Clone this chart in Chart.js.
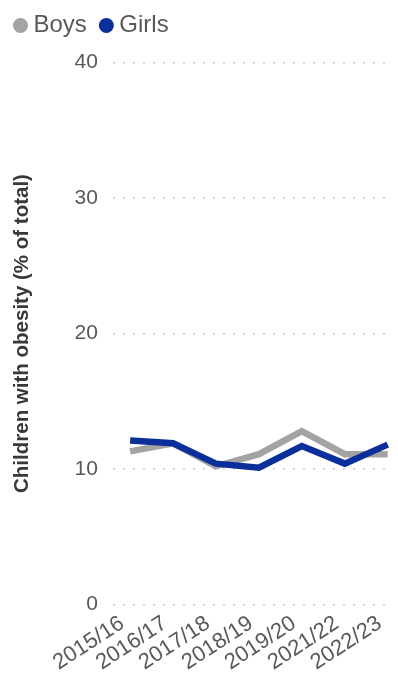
<!DOCTYPE html>
<html><head><meta charset="utf-8">
<script src="https://cdn.jsdelivr.net/npm/chart.js@4/dist/chart.umd.min.js"></script>
<style>html,body{margin:0;padding:0;background:#fff}#wrap{width:398px;height:674px;position:relative}</style>
</head><body><div id="wrap"><canvas id="c"></canvas></div>
<script>
const categories = ["2015/16","2016/17","2017/18","2018/19","2019/20","2021/22","2022/23"];
const boys  = [11.3, 11.9, 10.2, 11.1, 12.8, 11.1, 11.1];
const girls = [12.1, 11.9, 10.4, 10.1, 11.7, 10.4, 11.8];
const yTicks = [0, 10, 20, 30, 40];

const toPoints = arr => arr.map((v, i) => ({x: i, y: v}));
const FONT = 'Liberation Sans, Arial, sans-serif';

const legendMargin = {
  id: 'legendMargin',
  beforeInit(chart) {
    const fit = chart.legend.fit;
    chart.legend.fit = function () { fit.call(this); this.height += 15; };
  }
};

new Chart(document.getElementById('c'), {
  type: 'line',
  data: {
    datasets: [
      {label: 'Boys', data: toPoints(boys), borderColor: '#a3a3a3', backgroundColor: '#a3a3a3', borderWidth: 6.5, pointRadius: 0, tension: 0, order: 1},
      {label: 'Girls', data: toPoints(girls), borderColor: '#0a2f9b', backgroundColor: '#0a2f9b', borderWidth: 6.5, pointRadius: 0, tension: 0, order: 0}
    ]
  },
  plugins: [legendMargin],
  options: {
    responsive: true, maintainAspectRatio: false, animation: false,
    layout: {padding: {left: 1, right: 6, top: -5, bottom: 0}},
    plugins: {
      legend: {
        position: 'top', align: 'start',
        labels: {usePointStyle: true, pointStyle: 'circle', boxWidth: 2, boxHeight: 10.6, padding: 18.5,
          sort: (a, b) => a.datasetIndex - b.datasetIndex,
          generateLabels: (chart) => Chart.defaults.plugins.legend.labels.generateLabels(chart).map(l => Object.assign(l, {lineWidth: 0})),
          font: {family: FONT, size: 24}, color: '#595959'}
      },
      tooltip: {enabled: false}
    },
    scales: {
      x: {
        type: 'linear', min: -0.4, max: 6.1,
        afterBuildTicks: (ax) => { ax.ticks = categories.map((c, i) => ({value: i})); },
        afterFit: (ax) => { ax.paddingLeft = 0; ax.paddingRight = 0; },
        grid: {display: false},
        border: {display: false},
        ticks: {maxRotation: 33, minRotation: 33, autoSkip: false, padding: -2, labelOffset: -8,
          callback: (v) => categories[v],
          font: {family: FONT, size: 22}, color: '#595959'}
      },
      y: {
        min: 0, max: 40,
        afterBuildTicks: (ax) => { ax.ticks = yTicks.map(v => ({value: v})); },
        grid: {color: '#c8c8c8', lineWidth: 1.5, drawTicks: false},
        border: {display: false, dash: [2, 8]},
        ticks: {padding: 15, font: {family: FONT, size: 21}, color: '#595959'},
        title: {display: true, text: 'Children with obesity (% of total)',
          font: {family: FONT, size: 20.5, weight: 'bold'}, color: '#383838', padding: {top: 8.7, bottom: 25.3}}
      }
    }
  }
});
</script></body></html>
